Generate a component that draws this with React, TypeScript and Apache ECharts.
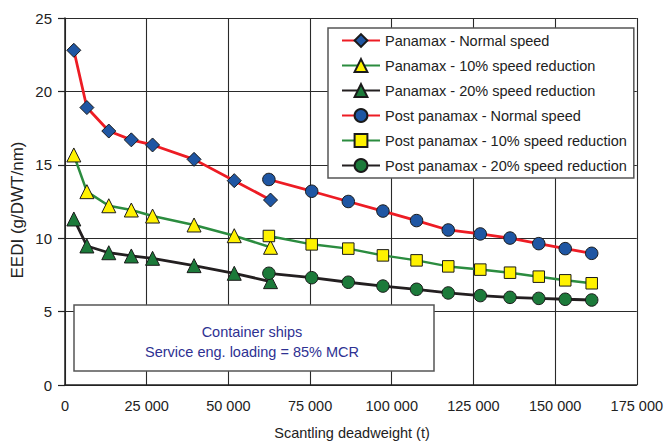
import React, { useEffect, useRef } from "react";
import * as echarts from "echarts";

const FONT = "'Liberation Sans', Arial, sans-serif";

const xTicks = [0, 25000, 50000, 75000, 100000, 125000, 150000, 175000];
const yTicks = [0, 5, 10, 15, 20, 25];

const panamaxDwt = [2700, 6700, 13400, 20300, 26800, 39500, 51800, 62900];
const panamaxNormal = [22.8, 18.9, 17.3, 16.7, 16.35, 15.37, 13.92, 12.6];
const panamax10 = [15.67, 13.17, 12.21, 11.92, 11.51, 10.9, 10.17, 9.38];
const panamax20 = [11.31, 9.47, 9.01, 8.79, 8.63, 8.13, 7.61, 7.04];

const postDwt = [62400, 75500, 86700, 97300, 107600, 117300, 127100, 136200, 145000, 153100, 161200];
const postNormal = [14.0, 13.2, 12.5, 11.85, 11.2, 10.56, 10.29, 10.01, 9.63, 9.29, 8.97];
const post10 = [10.15, 9.58, 9.29, 8.83, 8.49, 8.08, 7.86, 7.65, 7.38, 7.13, 6.93];
const post20 = [7.61, 7.31, 7.0, 6.74, 6.52, 6.27, 6.09, 5.97, 5.9, 5.84, 5.79];

const seriesNames = [
  "Panamax - Normal speed",
  "Panamax - 10% speed reduction",
  "Panamax - 20% speed reduction",
  "Post panamax - Normal speed",
  "Post panamax - 10% speed reduction",
  "Post panamax - 20% speed reduction",
];

const annotationLines = ["Container ships", "Service eng. loading = 85% MCR"];
const xTitle = "Scantling deadweight (t)";
const yTitle = "EEDI (g/DWT/nm)";

const RED = "#ed1c24";
const GREEN = "#2b8c3f";
const BLACK = "#231f20";
const BLUE = "#1f56a3";
const YELLOW = "#fff200";
const GREEN_FILL = "#1c7a3a";

function pairs(xs: number[], ys: number[]) {
  return xs.map((x, i) => [x, ys[i]]);
}

function fmt(v: number) {
  if (v === 0) return "0";
  const s = String(Math.round(v));
  return s.replace(/\B(?=(\d{3})+(?!\d))/g, " ");
}

export default function App() {
  const ref = useRef<HTMLDivElement>(null);
  useEffect(() => {
    if (!ref.current) return;
    const chart = echarts.init(ref.current, null, { renderer: "svg" });
    const mk = (
      name: string,
      xs: number[],
      ys: number[],
      lineColor: string,
      symbol: string,
      symbolSize: number,
      fill: string,
      lw: number
    ) => ({
      type: "line",
      name,
      data: pairs(xs, ys),
      symbol,
      symbolSize,
      showAllSymbol: true,
      lineStyle: { color: lineColor, width: lw },
      itemStyle: { color: fill, borderColor: "#1a1a1a", borderWidth: 1 },
      emphasis: { disabled: true },
    });
    chart.setOption({
      animation: false,
      backgroundColor: "#ffffff",
      textStyle: { fontFamily: FONT },
      grid: { left: 65, right: 26, top: 18, bottom: 57, containLabel: false },
      xAxis: {
        type: "value",
        min: xTicks[0],
        max: xTicks[xTicks.length - 1],
        interval: xTicks[1] - xTicks[0],
        axisLine: { show: true, lineStyle: { color: "#222", width: 1.5 } },
        axisTick: { show: false },
        splitLine: { show: true, lineStyle: { color: "#2a2a2a", width: 1.1 } },
        axisLabel: {
          color: "#222",
          fontSize: 14.5,
          fontFamily: FONT,
          margin: 13,
          formatter: (v: number) => fmt(v),
          showMaxLabel: true,
          showMinLabel: true,
        },
      },
      yAxis: {
        type: "value",
        min: yTicks[0],
        max: yTicks[yTicks.length - 1],
        interval: yTicks[1] - yTicks[0],
        axisLine: { show: true, lineStyle: { color: "#222", width: 1.5 } },
        axisTick: { show: true, length: 7, lineStyle: { color: "#222", width: 1.2 } },
        splitLine: { show: true, lineStyle: { color: "#2a2a2a", width: 1.1 } },
        axisLabel: { color: "#222", fontSize: 15, fontFamily: FONT, margin: 13 },
      },
      legend: {
        orient: "vertical",
        left: 328,
        top: 28,
        padding: [5, 7, 5, 13],
        itemGap: 10,
        itemWidth: 38,
        itemHeight: 16,
        backgroundColor: "#ffffff",
        borderColor: "#555",
        borderWidth: 1.5,
        borderRadius: 0,
        selectedMode: false,
        textStyle: { color: "#222", fontSize: 14.5, fontFamily: FONT },
        data: seriesNames,
        z: 10,
      },
      graphic: [
        {
          type: "rect",
          shape: { x: 74, y: 305, width: 360, height: 66 },
          style: { fill: "#ffffff", stroke: "#555", lineWidth: 1.5 },
          z: 100,
        },
        {
          type: "text",
          x: 252,
          y: 332,
          z: 101,
          style: {
            text: annotationLines[0],
            fill: "#2e3192",
            font: `14.5px ${FONT}`,
            align: "center",
            verticalAlign: "middle",
          },
        },
        {
          type: "text",
          x: 252,
          y: 352,
          z: 101,
          style: {
            text: annotationLines[1],
            fill: "#2e3192",
            font: `14.5px ${FONT}`,
            align: "center",
            verticalAlign: "middle",
          },
        },
        {
          type: "text",
          x: 352,
          y: 433,
          style: {
            text: xTitle,
            fill: "#222",
            font: `14.5px ${FONT}`,
            align: "center",
            verticalAlign: "middle",
          },
        },
        {
          type: "text",
          x: 17,
          y: 210,
          rotation: Math.PI / 2,
          style: {
            text: yTitle,
            fill: "#222",
            font: `17px ${FONT}`,
            align: "center",
            verticalAlign: "middle",
          },
        },
      ],
      series: [
        mk(seriesNames[0], panamaxDwt, panamaxNormal, RED, "diamond", 14, BLUE, 2.8),
        mk(seriesNames[1], panamaxDwt, panamax10, GREEN, "triangle", 14, YELLOW, 2.5),
        mk(seriesNames[2], panamaxDwt, panamax20, BLACK, "triangle", 14, GREEN_FILL, 2.8),
        mk(seriesNames[3], postDwt, postNormal, RED, "circle", 12.5, BLUE, 2.8),
        mk(seriesNames[4], postDwt, post10, GREEN, "rect", 11.5, YELLOW, 2.5),
        mk(seriesNames[5], postDwt, post20, BLACK, "circle", 12.5, GREEN_FILL, 2.8),
      ],
    });
    return () => chart.dispose();
  }, []);
  return (
    <div
      ref={ref}
      style={{ position: "fixed", left: 0, top: 0, width: 666, height: 442, background: "#fff" }}
    />
  );
}
